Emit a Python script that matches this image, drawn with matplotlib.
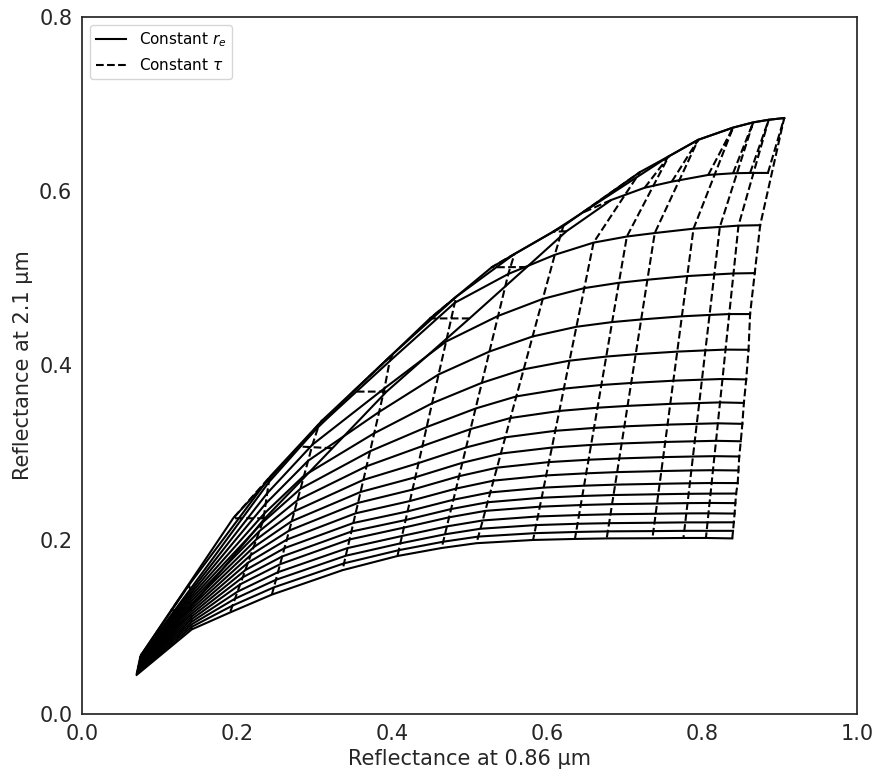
import matplotlib
matplotlib.use("Agg")
import matplotlib.pyplot as plt
from matplotlib.lines import Line2D

# Lookup table.
# One list per optical thickness (dashed curves), left to right.
# Inside each list: one value per effective radius (solid curves),
# the three top lines first, then the regular fan from top to bottom.
refl_086 = [
    [.0765, .0765, .0765, .0755, .0752, .0749, .0746, .0743, .0739, .0736, .0733, .0730, .0727, .0724, .0721, .0718, .0714, .0711, .0708, .0705],
    [.137, .115, .138, .1395, .1396, .1398, .1399, .1400, .1401, .1403, .1404, .1405, .1406, .1408, .1409, .1410, .1411, .1413, .1414, .1415],
    [.236, .195, .2426, .241, .2389, .2370, .2352, .2328, .2288, .2250, .2213, .2177, .2141, .2107, .2074, .2041, .2007, .1974, .1942, .191],
    [.323, .280, .310, .305, .2974, .2917, .2865, .2820, .2779, .2741, .2706, .2673, .2642, .2612, .2583, .2556, .2528, .2502, .2475, .245],
    [.393, .350, .401, .397, .3903, .3834, .3770, .3717, .3671, .3631, .3594, .3562, .3530, .3501, .3476, .3452, .3426, .3403, .3381, .336],
    [.500, .449, .483, .481, .4698, .4601, .4517, .4447, .4392, .4342, .4301, .4264, .4231, .4201, .4175, .4153, .4129, .4107, .4087, .407],
    [.574, .5286, .558, .550, .5369, .5257, .5159, .5078, .5013, .4956, .4907, .4865, .4827, .4792, .4762, .4736, .4708, .4683, .4660, .464],
    [.625, .608, .621, .610, .5945, .5814, .5699, .5604, .5528, .5461, .5404, .5355, .5309, .5268, .5233, .5203, .5170, .5141, .5113, .509],
    [.683, .645, .720, .660, .6481, .6379, .6290, .6217, .6159, .6106, .6063, .6024, .5989, .5957, .5931, .5907, .5882, .5859, .5838, .582],
    [.726, .757, .757, .703, .6927, .6840, .6764, .6701, .6651, .6606, .6568, .6536, .6505, .6478, .6455, .6435, .6413, .6394, .6375, .636],
    [.761, .795, .795, .739, .7295, .7215, .7144, .7086, .7039, .6998, .6963, .6932, .6905, .6879, .6858, .6839, .6819, .6801, .6784, .677],
    [.808, .840, .840, .789, .7809, .7740, .7680, .7630, .7590, .7555, .7525, .7499, .7475, .7453, .7435, .7419, .7402, .7387, .7372, .736],
    [.840, .866, .866, .823, .8158, .8097, .8043, .7999, .7964, .7932, .7906, .7883, .7862, .7843, .7827, .7813, .7797, .7784, .7771, .776],
    [.862, .886, .886, .847, .8406, .8351, .8303, .8264, .8232, .8204, .8181, .8160, .8141, .8124, .8110, .8097, .8083, .8071, .8060, .805],
    [.885, .906, .906, .875, .868, .862, .860, .857, .854, .852, .850, .848, .847, .846, .844, .843, .842, .841, .840, .839],
]

refl_21 = [
    [.068, .068, .068, .0660, .0647, .0634, .0620, .0607, .0594, .0581, .0567, .0554, .0541, .0528, .0514, .0501, .0488, .0475, .0461, .0448],
    [.119, .119, .148, .143, .1401, .1373, .1344, .1315, .1286, .1258, .1229, .1200, .1171, .1143, .1114, .1085, .1056, .1028, .0999, .097],
    [.2246, .2246, .2724, .266, .2533, .2415, .2301, .2197, .2098, .2004, .1913, .1824, .1736, .1651, .1569, .1488, .1404, .1323, .1244, .1165],
    [.305, .307, .337, .330, .3092, .2906, .2736, .2586, .2453, .2327, .2213, .2105, .2001, .1903, .1808, .1719, .1627, .1540, .1453, .137],
    [.370, .370, .413, .405, .3738, .3467, .3222, .3016, .2843, .2687, .2548, .2423, .2303, .2192, .2094, .2003, .1904, .1816, .1729, .165],
    [.454, .454, .479, .472, .4275, .3897, .3566, .3293, .3075, .2880, .2717, .2575, .2444, .2325, .2226, .2139, .2043, .1958, .1880, .1813],
    [.513, .5127, .528, .505, .4569, .4160, .3801, .3506, .3270, .3059, .2883, .2729, .2587, .2459, .2352, .2257, .2153, .2062, .1977, .1905],
    [.554, .5536, .560, .527, .4764, .4333, .3956, .3645, .3397, .3175, .2989, .2827, .2678, .2543, .2430, .2331, .2221, .2126, .2036, .196],
    [.590, .575, .622, .541, .4888, .4444, .4055, .3734, .3478, .3250, .3058, .2891, .2738, .2598, .2482, .2379, .2267, .2168, .2075, .1997],
    [.604, .640, .640, .548, .4949, .4498, .4102, .3776, .3515, .3283, .3088, .2918, .2762, .2620, .2502, .2398, .2283, .2183, .2089, .2009],
    [.611, .659, .659, .552, .4984, .4528, .4129, .3799, .3536, .3301, .3105, .2933, .2776, .2632, .2513, .2408, .2292, .2190, .2096, .2015],
    [.6187, .673, .673, .557, .5026, .4564, .4159, .3825, .3559, .3321, .3122, .2948, .2788, .2642, .2522, .2415, .2298, .2195, .2099, .2017],
    [.6206, .679, .679, .559, .5044, .4580, .4173, .3837, .3569, .3330, .3130, .2955, .2795, .2648, .2527, .2420, .2302, .2199, .2102, .202],
    [.621, .682, .682, .5605, .5056, .4590, .4182, .3845, .3576, .3336, .3135, .2959, .2798, .2651, .2529, .2422, .2303, .2199, .2102, .202],
    [.621, .684, .684, .561, .506, .459, .418, .384, .357, .333, .313, .2955, .2795, .265, .253, .242, .230, .220, .2102, .2015],
]

xlabel = "Reflectance at 0.86 µm"
ylabel = "Reflectance at 2.1 µm"
legend_labels = ["Constant $r_e$", r"Constant $\tau$"]

dark = "#262626"
plt.rcParams["font.family"] = ["DejaVu Sans"]

fig = plt.figure(figsize=(8.81, 7.82), dpi=100)
ax = fig.add_axes([0.0931, 0.0870, 0.8797, 0.8913])

n_re = len(refl_086[0])

# constant r_e : solid
for i in range(n_re):
    xs = [col[i] for col in refl_086]
    ys = [col[i] for col in refl_21]
    ax.plot(xs, ys, color="black", lw=1.5, ls="-")

# constant tau : dashed
for xs, ys in zip(refl_086, refl_21):
    ax.plot(xs, ys, color="black", lw=1.5, ls="--")

ax.set_xlim(0, 1)
ax.set_ylim(0, 0.8)
ax.set_xticks([0.0, 0.2, 0.4, 0.6, 0.8, 1.0])
ax.set_yticks([0.0, 0.2, 0.4, 0.6, 0.8])
ax.tick_params(length=0, labelsize=15, labelcolor=dark, pad=7)
for s in ax.spines.values():
    s.set_color(dark)
    s.set_linewidth(1.25)

ax.set_xlabel(xlabel, fontsize=15, color=dark)
ax.set_ylabel(ylabel, fontsize=15, color=dark)

handles = [Line2D([], [], color="black", lw=1.5, ls="-"),
           Line2D([], [], color="black", lw=1.5, ls="--")]
ax.legend(handles, legend_labels, loc="upper left", fontsize=11,
          frameon=True, edgecolor="#cccccc")

fig.savefig("out.png", dpi=100)
